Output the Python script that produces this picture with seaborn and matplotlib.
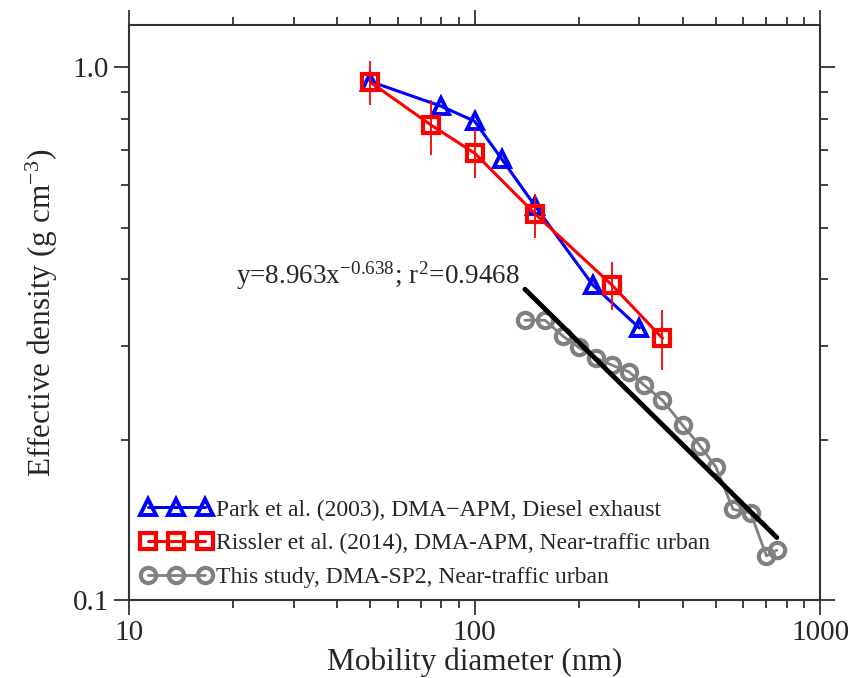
import numpy as np
import pandas as pd
import matplotlib
matplotlib.use("Agg")
import matplotlib.pyplot as plt
from matplotlib.ticker import LogLocator, FixedLocator, FixedFormatter, NullFormatter
import seaborn as sns

# ---- data ----
park_x = [50, 80, 100, 120, 150, 220, 300]
park_y = [0.94, 0.845, 0.792, 0.672, 0.548, 0.39, 0.324]

rissler_x = [50, 75, 100, 150, 250, 350]
rissler_y = [0.937, 0.778, 0.69, 0.53, 0.39, 0.31]
rissler_lo = [0.851, 0.684, 0.620, 0.478, 0.350, 0.270]
rissler_hi = [1.026, 0.866, 0.762, 0.579, 0.431, 0.350]

study_x = [140, 160, 180, 200, 225, 250, 280, 310, 350, 400, 450, 500, 560, 630, 700, 750]
study_y = [0.335, 0.335, 0.313, 0.298, 0.2845, 0.276, 0.268, 0.253, 0.237, 0.213,
           0.1945, 0.1776, 0.148, 0.1456, 0.121, 0.124]

fit_x = [140, 750]
fit_y = [0.383, 0.131]

labels = ["Park et al. (2003), DMA\u2212APM, Diesel exhaust",
          "Rissler et al. (2014), DMA-APM, Near-traffic urban",
          "This study, DMA-SP2, Near-traffic urban"]
equation = "y=8.963x$^{\\mathregular{\u22120.638}}$; r$^{\\mathregular{2}}$=0.9468"

sns.set_style("ticks")
plt.rcParams['font.family'] = ['Liberation Serif', 'DejaVu Serif']
plt.rcParams['mathtext.fontset'] = 'stix'

fig = plt.figure(figsize=(8.5, 6.78), dpi=100)
ax = fig.add_axes([129/850, 78/678, (820-129)/850, (600-25)/678])
ax.set_xscale('log')
ax.set_yscale('log')

df_park = pd.DataFrame({'x': park_x, 'y': park_y})
df_ris = pd.DataFrame({'x': rissler_x, 'y': rissler_y})
df_st = pd.DataFrame({'x': study_x, 'y': study_y})
df_fit = pd.DataFrame({'x': fit_x, 'y': fit_y})

sns.lineplot(data=df_st, x='x', y='y', ax=ax, color='#808080', lw=2,
             marker='o', markersize=11, markerfacecolor='none',
             markeredgecolor='#808080', markeredgewidth=3, label=labels[2],
             sort=False, zorder=3)
sns.lineplot(data=df_fit, x='x', y='y', ax=ax, color='black', lw=3.5,
             zorder=4, legend=False)
sns.lineplot(data=df_park, x='x', y='y', ax=ax, color='#0000ff', lw=2.2,
             marker='^', markersize=12, markerfacecolor='none',
             markeredgecolor='#0000ff', markeredgewidth=2.8, label=labels[0],
             sort=False, zorder=5)
yerr = [np.array(rissler_y) - np.array(rissler_lo), np.array(rissler_hi) - np.array(rissler_y)]
ax.errorbar(rissler_x, rissler_y, yerr=yerr, fmt='none', ecolor='#ff0000',
            elinewidth=1.3, capsize=0, zorder=6)
sns.lineplot(data=df_ris, x='x', y='y', ax=ax, color='#ff0000', lw=2.2,
             marker='s', markersize=11, markerfacecolor='none',
             markeredgecolor='#ff0000', markeredgewidth=3, label=labels[1],
             sort=False, zorder=6)

ax.set_xlim(10, 1000)
ax.set_ylim(0.1, 1.2)

ax.xaxis.set_major_locator(FixedLocator([10, 100, 1000]))
ax.xaxis.set_major_formatter(FixedFormatter(['10', '100', '1000']))
ax.xaxis.set_minor_locator(LogLocator(base=10, subs=np.arange(2, 10)))
ax.xaxis.set_minor_formatter(NullFormatter())
ax.yaxis.set_major_locator(FixedLocator([0.1, 1.0]))
ax.yaxis.set_major_formatter(FixedFormatter(['0.1', '1.0']))
ax.yaxis.set_minor_locator(LogLocator(base=10, subs=np.arange(2, 10)))
ax.yaxis.set_minor_formatter(NullFormatter())

ax.tick_params(which='both', direction='out', top=True, right=True,
               color='#333333', labelsize=21, width=1.3)
ax.tick_params(which='major', length=11)
ax.tick_params(which='minor', length=6)
for s in ax.spines.values():
    s.set_color('#333333')
    s.set_linewidth(1.5)

ax.set_xlabel("Mobility diameter (nm)", fontsize=22.5, labelpad=1)
ax.set_ylabel("Effective density (g cm$^{\\mathregular{\u22123}}$)", fontsize=22.5, labelpad=9)

ax.text(20.4, 0.393, equation, fontsize=19.5, ha='left', va='baseline', zorder=7)

handles, labs = ax.get_legend_handles_labels()
order = [labs.index(l) for l in labels]
ax.legend([handles[i] for i in order], [labs[i] for i in order],
          loc='lower left', frameon=False, fontsize=17, numpoints=3,
          handlelength=3.0, handletextpad=0.2, borderaxespad=0.2,
          labelspacing=0.52, borderpad=0.3)

fig.savefig("out.png", dpi=100)
